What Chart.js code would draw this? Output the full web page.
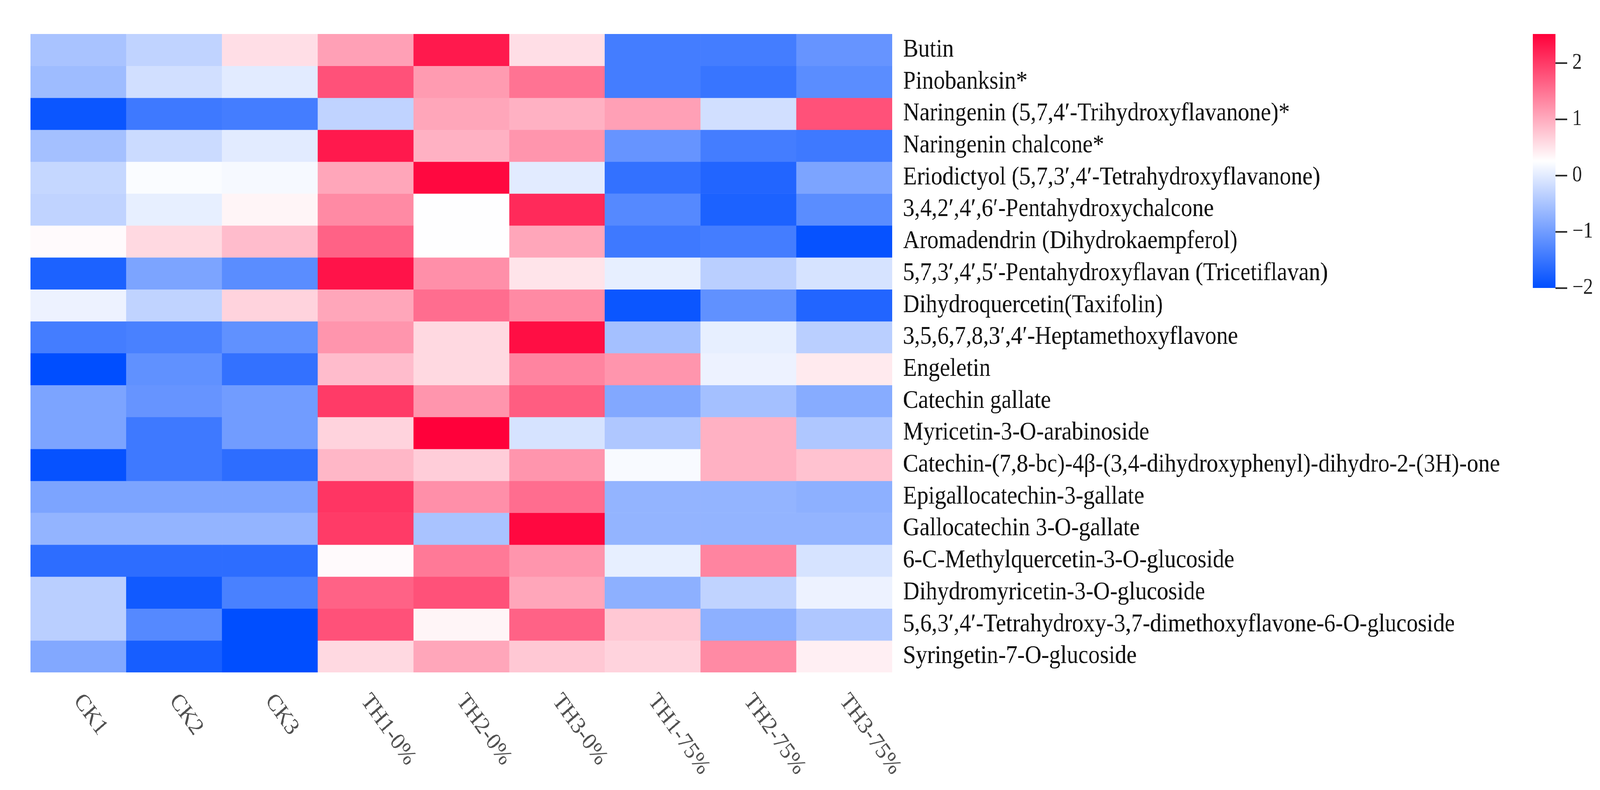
<!DOCTYPE html>
<html>
<head>
<meta charset="utf-8">
<title>Flavonoid heatmap</title>
<script src="https://cdn.jsdelivr.net/npm/chart.js@4.4.1/dist/chart.umd.min.js"></script>
<style>
  html, body { margin: 0; padding: 0; background: #fff; overflow: hidden; }
  #wrap { position: relative; width: 4550px; height: 2022px; transform-origin: 0 0; }
  #heat { position: absolute; left: 0; top: 0; }
  #scale { position: absolute; left: 4300px; top: 0; }
</style>
</head>
<body>
<div id="wrap">
  <canvas id="heat" width="4550" height="2022"></canvas>
  <canvas id="scale" width="250" height="800"></canvas>
</div>
<script>
const samples = ["CK1", "CK2", "CK3", "TH1-0%", "TH2-0%", "TH3-0%", "TH1-75%", "TH2-75%", "TH3-75%"];

const compounds = [
  "Butin",
  "Pinobanksin*",
  "Naringenin (5,7,4\u2032-Trihydroxyflavanone)*",
  "Naringenin chalcone*",
  "Eriodictyol (5,7,3\u2032,4\u2032-Tetrahydroxyflavanone)",
  "3,4,2\u2032,4\u2032,6\u2032-Pentahydroxychalcone",
  "Aromadendrin (Dihydrokaempferol)",
  "5,7,3\u2032,4\u2032,5\u2032-Pentahydroxyflavan (Tricetiflavan)",
  "Dihydroquercetin(Taxifolin)",
  "3,5,6,7,8,3\u2032,4\u2032-Heptamethoxyflavone",
  "Engeletin",
  "Catechin gallate",
  "Myricetin-3-O-arabinoside",
  "Catechin-(7,8-bc)-4\u03b2-(3,4-dihydroxyphenyl)-dihydro-2-(3H)-one",
  "Epigallocatechin-3-gallate",
  "Gallocatechin 3-O-gallate",
  "6-C-Methylquercetin-3-O-glucoside",
  "Dihydromyricetin-3-O-glucoside",
  "5,6,3\u2032,4\u2032-Tetrahydroxy-3,7-dimethoxyflavone-6-O-glucoside",
  "Syringetin-7-O-glucoside"
];

// z-scores per sample, in compound order (top to bottom)
const ck1    = [-0.5, -0.6, -1.9, -0.55, -0.25, -0.3, 0.3, -1.75, 0.1, -1.4, -2.0, -0.9, -0.9, -1.95, -0.9, -0.7, -1.6, -0.35, -0.35, -0.85];
const ck2    = [-0.3, -0.15, -1.45, -0.2, 0.22, 0.05, 0.6, -0.9, -0.3, -1.35, -1.15, -1.1, -1.45, -1.45, -0.9, -0.7, -1.6, -1.85, -1.25, -1.8];
const ck3    = [0.55, 0.0, -1.4, 0.0, 0.18, 0.35, 0.85, -1.2, 0.65, -1.15, -1.55, -1.0, -1.0, -1.6, -0.9, -0.7, -1.6, -1.35, -2.0, -2.0];
const th1_0  = [1.1, 1.8, -0.3, 2.3, 1.05, 1.3, 1.65, 2.35, 1.05, 1.2, 0.85, 2.0, 0.65, 0.9, 2.05, 2.0, 0.3, 1.65, 1.8, 0.6];
const th2_0  = [2.3, 1.15, 1.05, 0.95, 2.45, 0.25, 0.25, 1.25, 1.55, 0.6, 0.6, 1.2, 2.52, 0.7, 1.25, -0.5, 1.45, 1.8, 0.35, 1.05];
const th3_0  = [0.55, 1.5, 0.95, 1.2, 0.0, 2.15, 1.05, 0.5, 1.3, 2.4, 1.35, 1.7, -0.1, 1.2, 1.55, 2.45, 1.2, 1.05, 1.65, 0.75];
const th1_75 = [-1.4, -1.4, 1.1, -1.1, -1.55, -1.25, -1.45, 0.05, -1.9, -0.55, 1.2, -0.85, -0.45, 0.2, -0.7, -0.7, 0.05, -0.75, 0.75, 0.65];
const th2_75 = [-1.4, -1.5, -0.15, -1.4, -1.7, -1.75, -1.4, -0.35, -1.15, 0.05, 0.1, -0.55, 0.95, 0.95, -0.7, -0.7, 1.35, -0.3, -0.75, 1.3];
const th3_75 = [-1.1, -1.2, 1.8, -1.45, -0.9, -1.2, -1.95, -0.1, -1.7, -0.35, 0.45, -0.8, -0.45, 0.8, -0.75, -0.7, -0.1, 0.1, -0.45, 0.4];

const colorbarTicks = [-2, -1, 0, 1, 2];
const colorMin = -2;
const colorMax = 2.52;

const columns = [ck1, ck2, ck3, th1_0, th2_0, th3_0, th1_75, th2_75, th3_75];

// blue - white - red, white sits at the middle of the range
const lowColor = [0, 78, 255];
const midColor = [255, 255, 255];
const highColor = [255, 0, 58];
const midValue = (colorMin + colorMax) / 2;

function cellColor(v) {
  let to, t;
  if (v <= midValue) {
    t = (midValue - v) / (midValue - colorMin);
    to = lowColor;
  } else {
    t = (v - midValue) / (colorMax - midValue);
    to = highColor;
  }
  t = Math.max(0, Math.min(1, t));
  const c = midColor.map((f, i) => Math.round(f + (to[i] - f) * t));
  return "rgb(" + c.join(",") + ")";
}

// the figure is laid out at 4550 x 2022 and then fitted to the window
const W = 4550, H = 2022;
document.getElementById("wrap").style.transform =
  "scale(" + (window.innerWidth / W) + "," + (window.innerHeight / H) + ")";

const serif = '"Liberation Serif", "Times New Roman", serif';

// one stacked dataset per compound row, one bar per sample column
const datasets = compounds.map((name, r) => ({
  label: name,
  data: samples.map(() => 1),
  backgroundColor: columns.map(col => cellColor(col[r])),
  borderWidth: 0,
  barPercentage: 1,
  categoryPercentage: 1
}));

// rotated sample names under the cells
const sampleLabels = {
  id: "sampleLabels",
  afterDraw(chart) {
    const { ctx, chartArea } = chart;
    const x = chart.scales.x;
    ctx.save();
    ctx.font = "61px " + serif;
    ctx.fillStyle = "#505050";
    ctx.textAlign = "left";
    ctx.textBaseline = "top";
    samples.forEach((s, i) => {
      ctx.save();
      ctx.translate(x.getPixelForValue(i) + 22, chartArea.bottom + 44);
      ctx.rotate(52 * Math.PI / 180);
      ctx.fillText(s, 0, 0);
      ctx.restore();
    });
    ctx.restore();
  }
};

new Chart(document.getElementById("heat"), {
  type: "bar",
  data: { labels: samples, datasets: datasets },
  options: {
    responsive: false,
    animation: false,
    devicePixelRatio: 1,
    layout: { padding: { left: 87, top: 87, bottom: 301, right: 0 } },
    plugins: { legend: { display: false }, tooltip: { enabled: false } },
    scales: {
      x: { stacked: true, display: false },
      y: { stacked: true, display: false, min: 0, max: compounds.length, reverse: true },
      names: {
        type: "category",
        labels: compounds,
        position: "right",
        offset: true,
        grid: { display: false, drawTicks: false },
        border: { display: false },
        ticks: { autoSkip: false, padding: 31, color: "#111", font: { family: serif, size: 65 } },
        afterFit(scale) { scale.width = W - 2537; }
      }
    }
  },
  plugins: [sampleLabels]
});

// colour key
new Chart(document.getElementById("scale"), {
  type: "bar",
  data: {
    labels: [""],
    datasets: [{
      data: [[colorMin, colorMax]],
      borderWidth: 0,
      barPercentage: 1,
      categoryPercentage: 1,
      backgroundColor(context) {
        const chart = context.chart;
        if (!chart.chartArea) return cellColor(midValue);
        const y = chart.scales.y;
        const g = chart.ctx.createLinearGradient(0, y.getPixelForValue(colorMin), 0, y.getPixelForValue(colorMax));
        g.addColorStop(0, cellColor(colorMin));
        g.addColorStop(0.5, cellColor(midValue));
        g.addColorStop(1, cellColor(colorMax));
        return g;
      }
    }]
  },
  options: {
    responsive: false,
    animation: false,
    devicePixelRatio: 1,
    layout: { padding: { left: 59, top: 87, bottom: 63, right: 0 } },
    plugins: { legend: { display: false }, tooltip: { enabled: false } },
    scales: {
      x: { display: false },
      y: {
        position: "right",
        min: colorMin,
        max: colorMax,
        afterBuildTicks(scale) { scale.ticks = colorbarTicks.map(v => ({ value: v })); },
        grid: { drawOnChartArea: false, drawTicks: true, tickLength: 34, tickWidth: 4, tickColor: "#222" },
        border: { display: false },
        ticks: {
          padding: 14,
          color: "#222",
          font: { family: serif, size: 56 },
          callback: v => (v < 0 ? "\u2212" + Math.abs(v) : String(v))
        },
        afterFit(scale) { scale.width = 127; }
      }
    }
  }
});
</script>
</body>
</html>
